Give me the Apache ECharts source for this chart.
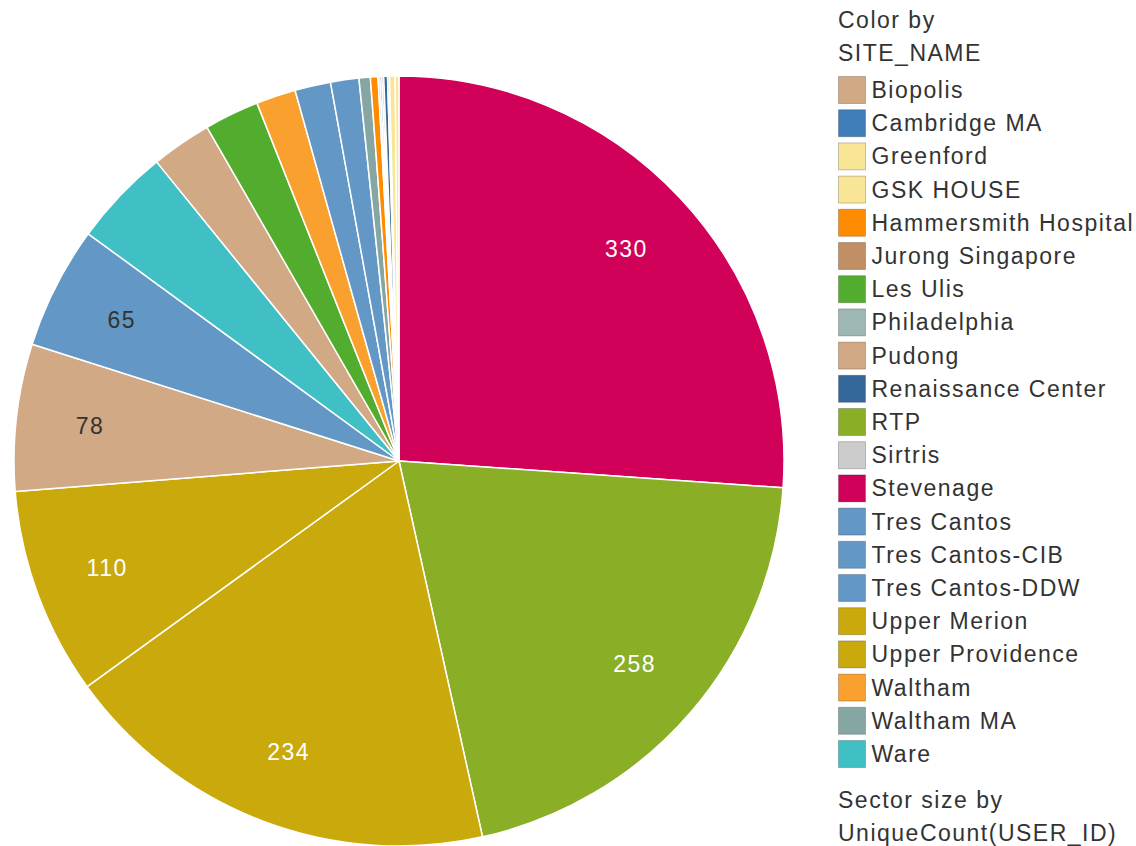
<!DOCTYPE html>
<html>
<head>
<meta charset="utf-8">
<script src="https://cdn.jsdelivr.net/npm/echarts@6/dist/echarts.min.js"></script>
<style>
html,body{margin:0;padding:0;background:#fff;}
#c{width:1136px;height:846px;}
#c text{letter-spacing:1.5px;}
</style>
</head>
<body>
<div id="c"></div>
<script>
// Slices in drawing order (clockwise from top)
var sliceNames = ['Stevenage','RTP','Upper Providence','Upper Merion','Pudong','Tres Cantos','Ware','Biopolis','Les Ulis','Waltham','Tres Cantos-CIB','Tres Cantos-DDW','Waltham MA','Hammersmith Hospital','Philadelphia','Cambridge MA','Jurong Singapore','Renaissance Center','Sirtris','Greenford','GSK HOUSE'];
var sliceValues = [330,258,234,110,78,65,52,32,29,21,19,15,6,4,1,1,1,2,1,3,2];
// Legend order (alphabetical as in reference)
var legendNames = ['Biopolis','Cambridge MA','Greenford','GSK HOUSE','Hammersmith Hospital','Jurong Singapore','Les Ulis','Philadelphia','Pudong','Renaissance Center','RTP','Sirtris','Stevenage','Tres Cantos','Tres Cantos-CIB','Tres Cantos-DDW','Upper Merion','Upper Providence','Waltham','Waltham MA','Ware'];
var siteColors = {
  'Biopolis':'#D1A985','Cambridge MA':'#3F7EB9','Greenford':'#F8E596','GSK HOUSE':'#F8E596',
  'Hammersmith Hospital':'#FF8C00','Jurong Singapore':'#C28F65','Les Ulis':'#52AD2E',
  'Philadelphia':'#9DB8B4','Pudong':'#D1A985','Renaissance Center':'#35689A','RTP':'#8AAF26',
  'Sirtris':'#CCCCCC','Stevenage':'#D10058','Tres Cantos':'#6398C6','Tres Cantos-CIB':'#6398C6',
  'Tres Cantos-DDW':'#6398C6','Upper Merion':'#CAA90C','Upper Providence':'#CAA90C',
  'Waltham':'#F9A02F','Waltham MA':'#86A6A3','Ware':'#40BFC4'
};
var darkLabelSites = ['Pudong','Tres Cantos'];
var labelMinShare = 0.05;

var total = sliceValues.reduce(function(a,b){return a+b;},0);
var FONT = '"Liberation Sans", Arial, sans-serif';

var pieData = sliceNames.map(function(n,i){
  return {name:n, value:sliceValues[i], itemStyle:{color:siteColors[n]}};
});
var labelData = sliceNames.map(function(n,i){
  var show = sliceValues[i]/total >= labelMinShare;
  return {name:n, value:sliceValues[i],
    label:{show:show, color: darkLabelSites.indexOf(n)>=0 ? '#333333' : '#ffffff'}};
});

var chart = echarts.init(document.getElementById('c'), null, {renderer:'svg'});
var cx = 399, cy = 461, R = 385;
chart.setOption({
  animation:false,
  backgroundColor:'#ffffff',
  color: legendNames.map(function(n){return siteColors[n];}),
  graphic:[
    {type:'text', left:838, top:3, style:{text:'Color by\nSITE_NAME', font:'23px '+FONT, fill:'#333333', lineHeight:33}},
    {type:'text', left:838, top:783, style:{text:'Sector size by\nUniqueCount(USER_ID)', font:'23px '+FONT, fill:'#333333', lineHeight:33}}
  ],
  legend:{
    orient:'vertical', left:838, top:76, padding:0,
    data: legendNames,
    icon:'rect', itemWidth:27, itemHeight:27, itemGap:5.2,
    textStyle:{fontFamily:FONT, fontSize:23, color:'#333333', lineHeight:27, padding:[0,0,0,1]},
    itemStyle:{borderColor:'rgba(0,0,0,0.22)', borderWidth:1}
  },
  series:[
    {
      type:'pie', center:[cx,cy], radius:[0,R], startAngle:90, clockwise:true,
      avoidLabelOverlap:false, silent:true,
      itemStyle:{borderColor:'#ffffff', borderWidth:1.5},
      label:{show:false}, labelLine:{show:false},
      data: pieData
    },
    {
      type:'pie', center:[cx,cy], radius:[R*0.6,R], startAngle:90, clockwise:true,
      avoidLabelOverlap:false, silent:true, legendHoverLink:false,
      itemStyle:{color:'rgba(0,0,0,0)', borderWidth:0},
      label:{position:'inside', fontFamily:FONT, fontSize:23, formatter:'{c}'},
      labelLine:{show:false},
      data: labelData
    }
  ]
});
</script>
</body>
</html>
